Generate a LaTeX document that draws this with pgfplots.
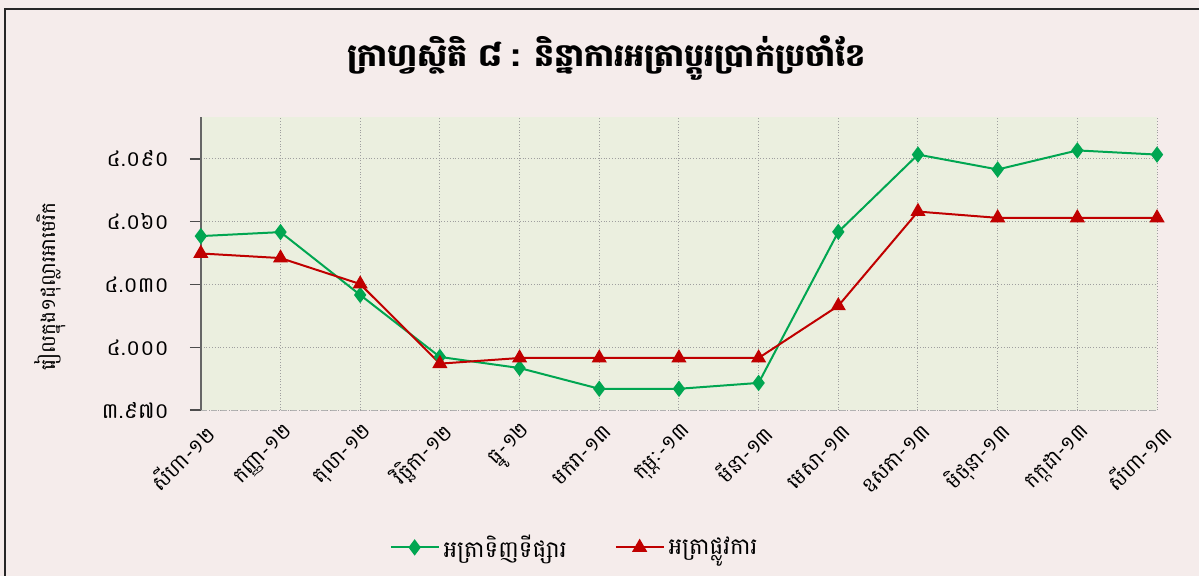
\documentclass[border=0pt]{standalone}
\usepackage{pgfplots}
\pgfplotsset{compat=1.18}
\usepackage{fontspec}
\setmainfont[Script=Khmer]{Battambang}
\newfontfamily\khmer[Script=Khmer]{Battambang}

\definecolor{pagebg}{HTML}{F5ECEB}
\definecolor{plotbg}{HTML}{EBEFDF}
\definecolor{mktgreen}{HTML}{00A651}
\definecolor{offred}{HTML}{C00000}

\begin{document}
\begin{tikzpicture}
\fill[pagebg] (0,0) rectangle (600pt,288pt);
\draw[line width=1pt, black!85] (2.5pt,0) -- (2.5pt,283.5pt) -- (600pt,283.5pt);
\useasboundingbox (0,0) rectangle (600pt,288pt);
\begin{axis}[
  at={(100.5pt,82.75pt)}, anchor=south west,
  scale only axis, width=478.5pt, height=146.75pt,
  xmin=0, xmax=12, ymin=3970, ymax=4110,
  axis background/.style={fill=plotbg},
  axis x line*=bottom, axis y line*=left,
  x axis line style={densely dashed, gray!60, line width=0.6pt},
  y axis line style={black!60, line width=0.9pt},
  xtick={0,...,12},
  xticklabels={សីហា-១២, កញ្ញា-១២, តុលា-១២, វិច្ឆិកា-១២, ធ្នូ-១២, មករា-១៣, កុម្ភៈ-១៣, មីនា-១៣, មេសា-១៣, ឧសភា-១៣, មិថុនា-១៣, កក្កដា-១៣, សីហា-១៣},
  ytick={3970,4000,4030,4060,4090},
  yticklabels={៣.៩៧០, ៤.០០០, ៤.០៣០, ៤.០៦០, ៤.០៩០},
  xticklabel style={font=\khmer\fontsize{10.3}{12}\selectfont, rotate=45, anchor=east, xshift=4pt, yshift=-6pt},
  yticklabel style={font=\khmer\fontsize{10.8}{13}\selectfont, xshift=-7pt},
  major x tick style={draw=none},
  major y tick style={black!70, line width=0.8pt},
  tick align=outside, major tick length=5.5pt,
  grid=major, grid style={densely dotted, gray!75, line width=0.5pt},
  ylabel={រៀលក្នុង១ដុល្លារអាមេរិក},
  ylabel style={font=\khmer\fontsize{10}{12}\selectfont, at={(axis description cs:-0.158,0.42)}, anchor=center, rotate=0},
  title={\bfseries ក្រាហ្វស្ថិតិ ៨ : និន្នាការអត្រាប្តូរប្រាក់ប្រចាំខែ},
  title style={font=\khmer\fontsize{15.8}{19}\selectfont\bfseries, at={(axis description cs:0.424,1.16)}, anchor=center},
  legend columns=2,
  legend style={at={(axis description cs:0.392,-0.468)}, anchor=center, draw=none, fill=none, font=\khmer\fontsize{11.5}{13}\selectfont, /tikz/every even column/.append style={column sep=22pt}},
  legend image code/.code={\draw[mark repeat=2, mark phase=2] plot coordinates {(0cm,0cm) (0.42cm,0cm) (0.84cm,0cm)};},
]
\addplot[mktgreen, line width=1pt, mark=diamond*, mark size=3.3pt, mark options={solid}] coordinates {
(0,4053.1)(1,4055.0)(2,4025.0)(3,3995.4)(4,3990.1)(5,3980.2)(6,3980.2)(7,3983.0)(8,4055.1)(9,4092.0)(10,4084.9)(11,4094.0)(12,4092.0)};
\addlegendentry{អត្រាទិញទីផ្សារ}
\addplot[offred, line width=1pt, mark=triangle*, mark size=3.4pt, mark options={solid}] coordinates {
(0,4044.8)(1,4042.6)(2,4030.2)(3,3992.2)(4,3994.9)(5,3994.9)(6,3994.9)(7,3994.9)(8,4019.8)(9,4064.8)(10,4061.8)(11,4061.8)(12,4061.8)};
\addlegendentry{អត្រាផ្លូវការ}
\end{axis}
\end{tikzpicture}
\end{document}
